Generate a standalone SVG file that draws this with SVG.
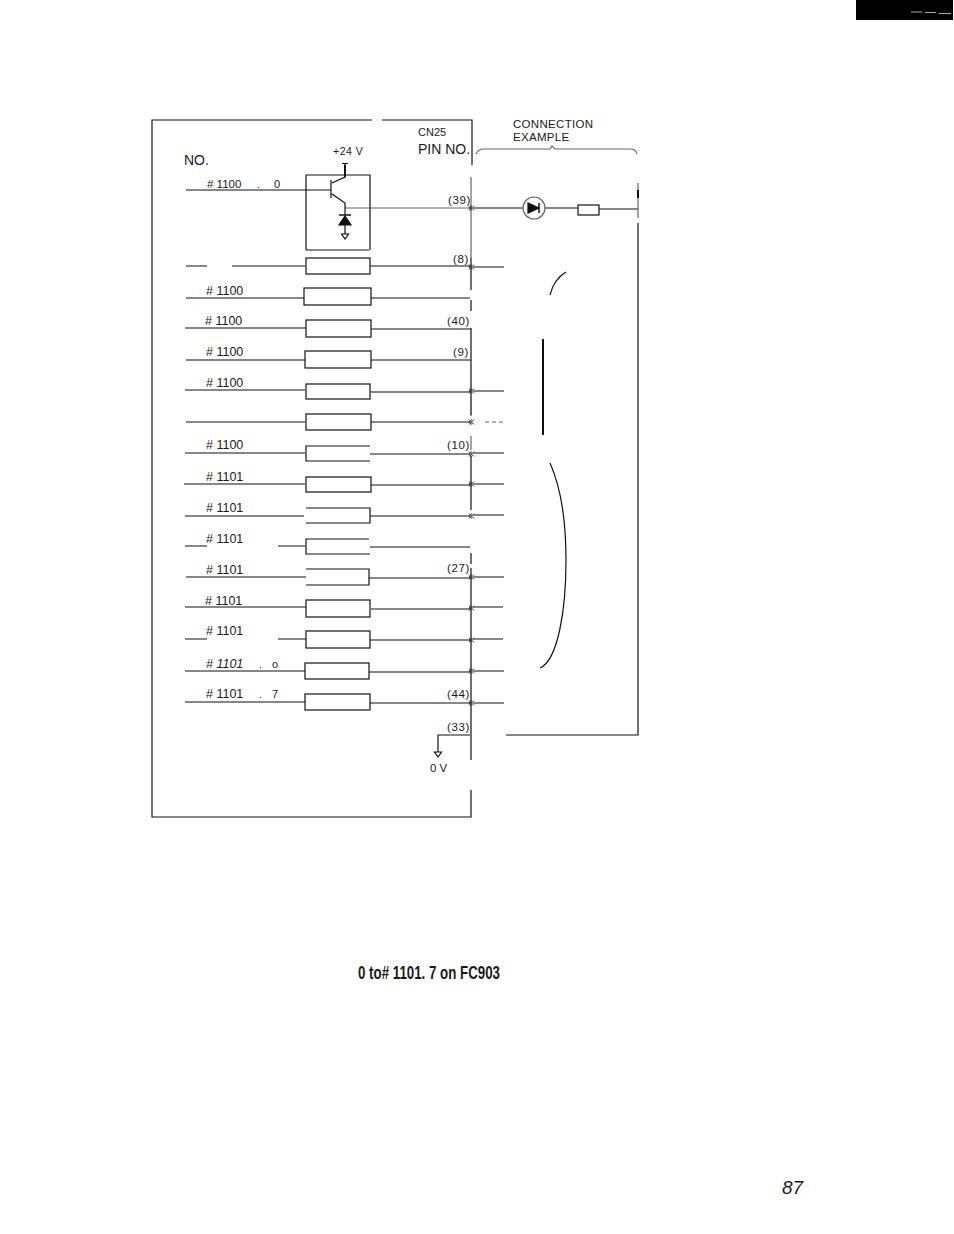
<svg xmlns="http://www.w3.org/2000/svg" width="954" height="1234" viewBox="0 0 954 1234">
<style>
text{font-family:"Liberation Sans",Arial,sans-serif;fill:#1a1a1a}
.l{font-size:12.500px}
.p{font-size:11.500px;letter-spacing:.6px}
line,path,rect.b,polyline,circle{fill:none;stroke:#111;stroke-width:1.200}
.g{stroke:#666}
.x{stroke-width:1;stroke:#333}
</style>
<defs>
<path id="cross" class="x" d="M-3 -2.500L2 2.500M-3 2.500L2 -2.500M0 -2.500L-3 0L0 2.500"/>
<path id="gnd" d="M-3.500 0H3.500L0 5Z"/>
</defs>
<rect x="856" y="0" width="97" height="20" fill="#000"/>
<g id="page-mark"><path d="M911 12H922M925 12.500H936M939 13.500H951" style="stroke:#aaa;stroke-width:1"/></g>

<g id="frame">
<path d="M472 165V120H382M372 120H152V817H471V790"/>
<path class="g" d="M471 177V258"/>
<path d="M471 258V290M471 300V311M471 328V415"/>
<path class="g" d="M471 396V416M471 436V450"/>
<path d="M471 456V510"/>
<path d="M471 553V564M471 568V760"/>
</g>

<g id="connectors">
<path d="M186 190H331"/>
<path d="M186 266H207M232 266H305"/>
<path d="M186 298H304"/><path d="M185 328H306"/><path d="M186 360H305"/><path d="M185 390H305"/>
<path d="M186 422H305"/><path d="M185 453H305"/><path d="M184 484H305"/><path d="M185 516H304"/>
<path d="M185 546H207M278 546H305"/><path d="M186 577H306"/><path d="M185 607H306"/>
<path d="M185 639H207M278 639H306"/><path d="M185 671H305"/><path d="M185 702H305"/>
<path class="g" d="M345 208H471"/>
<path d="M370 266H470M371 298H470M371 329H471M371 360H471M371 392H470M371 422H470M370 454H470M371 485H470M370 516H470M370 547H470M369 578H470M371 609H470M370 640H470M369 672H470M370 703H470"/>
<path d="M473 208H523"/>
<path d="M473 267H504M473 391H504M473 453H504M473 484H504M473 515H504M473 577H504M473 607H503M473 639H503M473 671H504M473 703H504"/>
<path class="g" d="M485 422H504" stroke-dasharray="4 3"/>
<path d="M470 735H438V752"/>
<path d="M545 208H578M599 209H638"/>
<path class="g" d="M638 183V218"/>
<path d="M638 223V735H506"/>
<path d="M638 190V198" style="stroke-width:2"/>
<g id="pin-marks">
<use href="#cross" x="472" y="208"/><use href="#cross" x="472" y="267"/><use href="#cross" x="472" y="391"/><use href="#cross" x="472" y="422"/><use href="#cross" x="472" y="454"/><use href="#cross" x="472" y="484"/><use href="#cross" x="472" y="516"/><use href="#cross" x="472" y="577"/><use href="#cross" x="472" y="608"/><use href="#cross" x="472" y="640"/><use href="#cross" x="472" y="671"/><use href="#cross" x="472" y="703"/>
</g>
</g>

<g id="driver-0">
<path d="M306 250V175H370V250M306 250H369"/>
<path d="M342 163.500H348M345 163V177L332 183M331 180V198M332 194L345 203V208"/>
<path d="M345 165V177" style="stroke-width:2"/>
<path d="M339 225H351L345 216Z" style="fill:#111"/><path d="M339 215H351" style="stroke-width:1.500"/>
<path d="M345 208V215M345 225V234"/><use href="#gnd" x="345" y="234"/>
</g>

<g id="driver-1"><rect class="b" x="306" y="258" width="64" height="16"/></g>
<g id="driver-2"><rect class="b" x="304" y="288" width="67" height="17"/></g>
<g id="driver-3"><rect class="b" x="306" y="320" width="65" height="17"/></g>
<g id="driver-4"><rect class="b" x="305" y="351" width="66" height="17"/></g>
<g id="driver-5"><rect class="b" x="306" y="384" width="64" height="15"/></g>
<g id="driver-6"><rect class="b" x="306" y="414" width="65" height="16"/></g>
<g id="driver-7"><path d="M370 446H306V461H370"/></g>
<g id="driver-8"><rect class="b" x="306" y="477" width="65" height="15"/></g>
<g id="driver-9"><path d="M306 508H370V523H306"/></g>
<g id="driver-10"><path d="M369 539H306V554H370"/></g>
<g id="driver-11"><path d="M306 569H369V585H306"/></g>
<g id="driver-12"><rect class="b" x="306" y="600" width="64" height="17"/></g>
<g id="driver-13"><rect class="b" x="306" y="631" width="64" height="17"/></g>
<g id="driver-14"><rect class="b" x="305" y="663" width="64" height="16"/></g>
<g id="driver-15"><rect class="b" x="305" y="694" width="65" height="16"/></g>

<g id="labels">
<text x="184" y="165" font-size="14">NO.</text>
<text x="418" y="136" font-size="11">CN25</text>
<text x="418" y="154" font-size="14">PIN NO.</text>
<text x="333" y="155" font-size="10.500" letter-spacing=".5">+24 V</text>
<text x="207" y="188" font-size="11.500"># 1100</text><text x="257" y="188" font-size="10">.</text><text x="274" y="188" font-size="11">0</text>
<text class="l" x="206" y="295"># 1100</text>
<text class="l" x="205" y="325"># 1100</text>
<text class="l" x="206" y="356"># 1100</text>
<text class="l" x="206" y="387"># 1100</text>
<text class="l" x="206" y="449"># 1100</text>
<text class="l" x="206" y="481"># 1101</text>
<text class="l" x="206" y="512"># 1101</text>
<text class="l" x="206" y="543"># 1101</text>
<text class="l" x="206" y="574"># 1101</text>
<text class="l" x="205" y="605"># 1101</text>
<text class="l" x="206" y="635"># 1101</text>
<text class="l" x="206" y="668" font-style="italic"># 1101</text><text x="259" y="668" font-size="10">.</text><text x="272" y="668" font-size="11">o</text>
<text class="l" x="206" y="698"># 1101</text><text x="259" y="698" font-size="10">.</text><text x="272" y="698" font-size="11">7</text>
<text class="p" x="448" y="204">(39)</text>
<text class="p" x="453" y="263">(8)</text>
<text class="p" x="447" y="325">(40)</text>
<text class="p" x="453" y="356">(9)</text>
<text class="p" x="447" y="449">(10)</text>
<text class="p" x="447" y="572">(27)</text>
<text class="p" x="447" y="698">(44)</text>
<text class="p" x="447" y="731">(33)</text>
<text x="430" y="772" font-size="11.500">0 V</text>
<text x="513" y="128" font-size="11.500" letter-spacing=".3">CONNECTION</text>
<text x="513" y="141" font-size="11.500" letter-spacing=".3">EXAMPLE</text>
<text x="358" y="979" font-size="18" font-weight="700" textLength="142" lengthAdjust="spacingAndGlyphs">0 to# 1101. 7 on FC903</text>
<text x="782" y="1194" font-size="19" font-style="italic">87</text>
</g>

<g id="ground"><use href="#gnd" x="438" y="752"/></g>

<g id="example">
<path d="M476 154Q478 149 484 149H550L552 146L555 149H630Q636 149 637 154" class="g"/>
<circle cx="534" cy="208" r="11" class="g"/>
<path d="M528 203L539 208L528 213Z" style="fill:#111"/><path d="M539 203V213" style="stroke-width:1.500"/>
<rect class="b" x="578" y="205" width="21" height="10"/>
<path d="M566 272Q554 279 550 295"/>
<path d="M543 339V435" style="stroke-width:2"/>
<path d="M550 463C562 490 566 525 566 560C566 610 558 660 540 668"/>
</g>
</svg>
